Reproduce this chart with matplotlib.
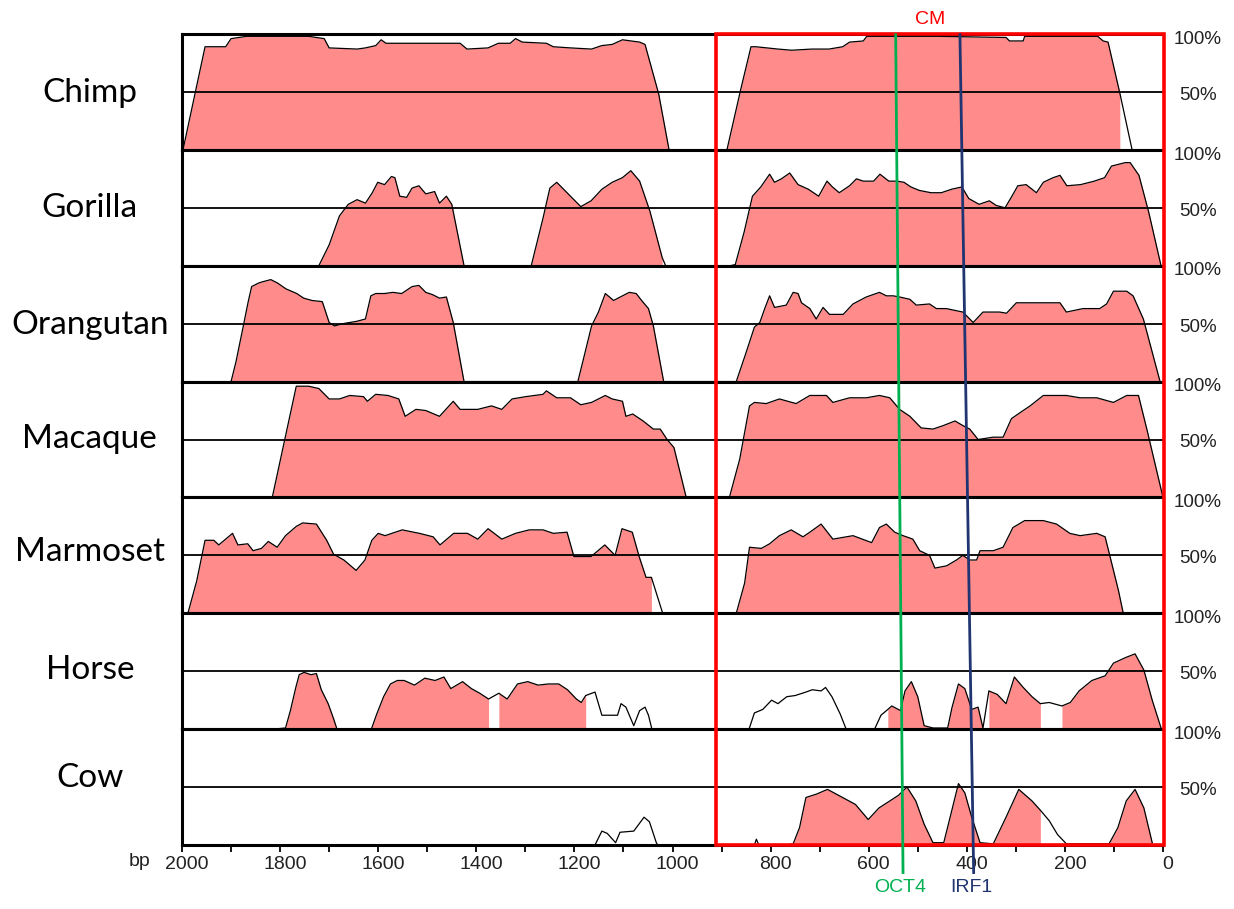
import matplotlib.pyplot as plt
import matplotlib.transforms as mtransforms
import numpy as np
from matplotlib.patches import Rectangle

# species, top to bottom
species = ['Chimp', 'Gorilla', 'Orangutan', 'Macaque', 'Marmoset', 'Horse', 'Cow']

# conservation curves (position in bp, % identity)
chimp_bp = [1998, 1953, 1911, 1900, 1868, 1742, 1710, 1700, 1643, 1626, 1605, 1594, 1584, 1517, 1433, 1419,
            1376, 1355, 1331, 1320, 1306, 1257, 1243, 1208, 1165, 1144, 1123, 1102, 1067, 1056, 1028, 1007,
            889, 861, 840, 830, 785, 757, 716, 681, 653, 639, 611, 604, 459, 320, 313, 285, 282, 133, 122,
            112, 88, 63]
chimp_pct = [0, 89, 89, 96, 98, 98, 96, 88, 87, 88, 90, 95, 92, 92, 92, 87, 88, 92, 92, 96, 93, 92, 89, 88,
             87, 90, 91, 95, 93, 91, 48, 0,
             0, 52, 89, 89, 87, 86, 87, 87, 89, 93, 94, 98, 98, 97, 94, 94, 98, 98, 94, 93, 49, 0]

gorilla_bp = [1721, 1700, 1679, 1661, 1643, 1626, 1612, 1601, 1587, 1573, 1566, 1556, 1542, 1531, 1517, 1503,
              1485, 1475, 1461, 1450, 1425,
              1288, 1264, 1250, 1236, 1222, 1201, 1187, 1166, 1144, 1123, 1102, 1085, 1067, 1046, 1021, 1014,
              882, 872, 854, 837, 820, 802, 792, 778, 761, 744, 723, 702, 685, 674, 660, 639, 625, 611, 590,
              577, 559, 542, 528, 514, 497, 473, 452, 431, 410, 396, 375, 354, 340, 322, 308, 296, 279, 258,
              244, 224, 210, 196, 168, 140, 119, 105, 77, 67, 49, 29, 4]
gorilla_pct = [0, 18, 43, 53, 57, 54, 63, 72, 70, 77, 76, 60, 59, 67, 69, 62, 64, 54, 60, 53, 0,
               0, 41, 67, 72, 66, 57, 51, 56, 66, 72, 76, 82, 73, 47, 7, 0,
               0, 1, 29, 60, 68, 79, 72, 75, 80, 70, 66, 60, 73, 68, 63, 69, 75, 73, 73, 79, 73, 73, 72, 68,
               65, 63, 63, 66, 68, 58, 53, 56, 52, 50, 60, 69, 70, 63, 72, 76, 78, 69, 70, 73, 76, 86, 89,
               89, 78, 46, 0]

orangutan_bp = [1900, 1890, 1875, 1865, 1858, 1844, 1837, 1819, 1805, 1788, 1766, 1752, 1735, 1714, 1700,
                1689, 1672, 1658, 1644, 1626, 1615, 1605, 1587, 1570, 1552, 1531, 1517, 1503, 1489, 1475,
                1461, 1447, 1425,
                1193, 1183, 1165, 1151, 1137, 1120, 1102, 1088, 1074, 1063, 1049, 1039, 1018,
                884, 870, 850, 833, 822, 812, 802, 792, 768, 754, 744, 737, 720, 707, 693, 680, 652, 632,
                605, 578, 564, 550, 537, 516, 503, 476, 462, 442, 408, 387, 367, 333, 319, 299, 279, 251,
                210, 197, 163, 129, 115, 101, 74, 61, 40, 6]
orangutan_pct = [0, 17, 48, 69, 82, 85, 86, 88, 85, 80, 76, 72, 70, 69, 51, 48, 50, 51, 52, 54, 74, 76, 76,
                 77, 76, 82, 83, 77, 75, 72, 73, 51, 0,
                 0, 17, 48, 60, 76, 70, 74, 77, 76, 70, 63, 48, 0,
                 0, 0, 25, 47, 51, 63, 74, 64, 66, 77, 76, 68, 63, 54, 64, 58, 58, 67, 73, 77, 74, 74, 73,
                 71, 66, 67, 63, 63, 60, 51, 60, 60, 59, 68, 68, 68, 68, 60, 63, 63, 67, 78, 78, 74, 54, 0]

macaque_bp = [1816, 1791, 1767, 1742, 1721, 1700, 1679, 1658, 1630, 1622, 1605, 1580, 1558, 1545, 1523,
              1503, 1475, 1447, 1433, 1397, 1369, 1348, 1327, 1299, 1264, 1257, 1236, 1208, 1187, 1165,
              1137, 1123, 1102, 1095, 1081, 1060, 1039, 1025, 1011, 997, 972,
              884, 863, 843, 833, 809, 782, 748, 720, 686, 673, 639, 605, 578, 557, 537, 516, 493, 469,
              448, 424, 408, 394, 377, 346, 326, 309, 292, 271, 244, 197, 169, 135, 101, 74, 50, 33, 0]
macaque_pct = [0, 49, 96, 96, 94, 85, 85, 88, 87, 83, 89, 88, 85, 70, 76, 75, 70, 83, 76, 76, 79, 76, 85,
               87, 89, 92, 86, 86, 80, 82, 88, 85, 83, 70, 72, 66, 59, 59, 50, 43, 0,
               0, 33, 79, 82, 81, 85, 81, 88, 88, 82, 86, 86, 88, 86, 76, 70, 60, 59, 62, 66, 62, 59, 50,
               52, 52, 68, 73, 79, 88, 88, 86, 86, 82, 88, 88, 59, 0]

marmoset_bp = [1988, 1970, 1953, 1935, 1925, 1911, 1897, 1886, 1866, 1855, 1838, 1824, 1806, 1789, 1767,
               1754, 1726, 1705, 1691, 1670, 1645, 1627, 1613, 1600, 1586, 1551, 1516, 1488, 1474, 1446,
               1418, 1397, 1376, 1348, 1320, 1292, 1264, 1243, 1215, 1201, 1187, 1166, 1138, 1117, 1103,
               1082, 1068, 1054, 1043, 1020,
               884, 870, 853, 843, 819, 802, 782, 758, 734, 720, 697, 673, 632, 594, 578, 564, 547, 530,
               510, 496, 476, 465, 441, 421, 408, 394, 380, 373, 346, 326, 306, 282, 244, 217, 190, 169,
               135, 118, 108, 91, 81]
marmoset_pct = [0, 28, 63, 63, 59, 64, 69, 59, 60, 54, 56, 62, 57, 67, 75, 78, 77, 63, 51, 46, 37, 46, 63,
                69, 67, 72, 69, 66, 59, 69, 69, 64, 73, 64, 69, 72, 72, 69, 70, 49, 49, 49, 59, 50, 73, 70,
                49, 31, 31, 0,
                0, 0, 26, 57, 56, 60, 67, 72, 66, 70, 77, 64, 67, 61, 74, 77, 70, 67, 64, 54, 50, 39, 41,
                46, 50, 46, 46, 54, 54, 57, 74, 80, 80, 77, 69, 67, 69, 66, 49, 20, 0]

horse_bp = [1814, 1789, 1779, 1768, 1761, 1751, 1737, 1726, 1716, 1702, 1691, 1684,
            1614, 1603, 1589, 1575, 1561, 1547, 1526, 1505, 1484, 1466, 1452, 1428, 1410, 1393, 1375, 1354,
            1337, 1316, 1295, 1274, 1253, 1232, 1214, 1196, 1186, 1177, 1158, 1144, 1133, 1112, 1105, 1095,
            1079, 1067, 1056, 1049, 1042,
            844, 833, 816, 798, 785, 767, 750, 728, 715, 697, 688, 675, 658, 646,
            588, 575, 561, 553, 535, 526, 513, 500, 487, 469, 439, 430, 417, 404, 390, 377, 367, 355, 338,
            320, 303, 285, 267, 250, 232, 206, 189, 171, 145, 118, 101, 75, 57, 39, 22, 4]
horse_pct = [0, 1, 16, 36, 47, 49, 47, 48, 34, 22, 9, 0,
             0, 13, 28, 39, 42, 42, 38, 44, 42, 45, 35, 41, 35, 31, 26, 31, 26, 39, 41, 38, 39, 39, 34, 26,
             23, 29, 32, 12, 12, 12, 22, 19, 3, 16, 19, 12, 0,
             0, 14, 17, 25, 22, 28, 29, 32, 34, 33, 36, 28, 13, 0,
             0, 12, 17, 20, 16, 33, 41, 28, 3, 1, 1, 19, 39, 35, 17, 19, 1, 33, 30, 22, 45, 36, 28, 22, 23,
             20, 23, 33, 42, 46, 57, 62, 65, 51, 25, 1]

cow_bp = [1158, 1144, 1133, 1116, 1107, 1079, 1065, 1058, 1047, 1033, 1030,
          833, 829, 824,
          767, 754, 741, 728, 706, 684, 662, 627, 601, 579, 557, 539, 522, 504, 487, 469, 447, 434, 417,
          404, 390, 373, 346, 320, 294, 267, 250, 232, 215, 197, 110, 92, 75, 57, 39, 22]
cow_pct = [0, 12, 10, 2, 11, 12, 20, 24, 20, 2, 0,
           0, 5, 0,
           0, 1, 15, 41, 44, 48, 43, 35, 22, 32, 38, 43, 50, 38, 18, 2, 2, 24, 53, 45, 24, 2, 1, 24, 48,
           38, 30, 21, 9, 1, 1, 15, 38, 48, 32, 2]

# shaded (conserved) stretches, (from bp, to bp)
chimp_fill = [(1998, 1007), (889, 88)]
gorilla_fill = [(1721, 1425), (1288, 1021), (882, 4)]
orangutan_fill = [(1900, 1425), (1193, 1018), (884, 6)]
macaque_fill = [(1816, 972), (884, 0)]
marmoset_fill = [(1988, 1043), (884, 81)]
horse_fill = [(1814, 1684), (1614, 1375), (1354, 1177), (561, 367), (355, 250), (206, 4)]
cow_fill = [(767, 250), (110, 22)]

all_bp = [chimp_bp, gorilla_bp, orangutan_bp, macaque_bp, marmoset_bp, horse_bp, cow_bp]
all_pct = [chimp_pct, gorilla_pct, orangutan_pct, macaque_pct, marmoset_pct, horse_pct, cow_pct]
all_fill = [chimp_fill, gorilla_fill, orangutan_fill, macaque_fill, marmoset_fill, horse_fill, cow_fill]
label_pos = [0.49, 0.5, 0.49, 0.5, 0.53, 0.51, 0.58]

# CM region and the two sites (bp at top, bp at bottom)
cm_region = (912, -3)
sites = ['OCT4', 'IRF1']
site_top = [545, 414]
site_bottom = [530, 386]
site_colors = ['#00b050', '#1f3470']

pink = '#ff8b8b'
sans = ['Liberation Sans', 'DejaVu Sans']

W, H = 1234, 909
fig = plt.figure(figsize=(W / 100, H / 100), dpi=100)

x0, x1 = 182, 1163
y0, y1 = 34, 845
ph = (y1 - y0) / 7.0

for i in range(7):
    top = y0 + i * ph
    ax = fig.add_axes([x0 / W, 1 - (top + ph) / H, (x1 - x0) / W, ph / H])
    ax.set_xlim(2000, 0)
    ax.set_ylim(0, 100)
    bp = np.array(all_bp[i])
    pct = np.array(all_pct[i])
    for hi, lo in all_fill[i]:
        m = (bp <= hi) & (bp >= lo)
        ax.fill_between(bp[m], pct[m], 0, color=pink, lw=0)
    ax.plot(bp, pct, color='black', lw=0.9)
    ax.axhline(50, color='black', lw=1.3)
    for s in ['top', 'bottom', 'left']:
        ax.spines[s].set_linewidth(2.2)
    ax.spines['right'].set_visible(False)
    ax.set_yticks([])
    ax.text(-0.094, label_pos[i], species[i], transform=ax.transAxes, ha='center', va='center',
            fontsize=24, family=['Lato', 'DejaVu Sans'])
    ax.text(1.0357, 0.955, '100%', transform=ax.transAxes, ha='center', va='center',
            fontsize=13.5, family=sans, color='#222222')
    ax.text(1.0357, 0.47, '50%', transform=ax.transAxes, ha='center', va='center',
            fontsize=13.5, family=sans, color='#222222')
    if i < 6:
        ax.set_xticks([])
    else:
        ticks = list(range(2000, -1, -100))
        ax.set_xticks(ticks)
        ax.set_xticklabels([str(t) if t % 200 == 0 else '' for t in ticks], family=sans)
        ax.tick_params(axis='x', direction='out', length=5, width=1.3, pad=3, labelsize=14,
                       labelcolor='#222222')
        shift = mtransforms.ScaledTranslation(5 / 100, 0, fig.dpi_scale_trans)
        for lab in ax.get_xticklabels():
            lab.set_transform(lab.get_transform() + shift)

fig.text(140 / W, 1 - 861 / H, 'bp', ha='center', va='center', fontsize=14, family=sans, color='#222222')

# overlay for CM box and site lines
ov = fig.add_axes([x0 / W, 1 - y1 / H, (x1 - x0) / W, (y1 - y0) / H])
ov.set_xlim(2000, 0)
ov.set_ylim(0, 1)
ov.axis('off')
ov.patch.set_alpha(0)
ov.add_patch(Rectangle((cm_region[1], 0), cm_region[0] - cm_region[1], 1.0, fill=False,
                       edgecolor='#ff0000', lw=2.6, clip_on=False))
ov.text(475, 1.018, 'CM', color='#ff0000', ha='center', va='center', fontsize=14, family=sans)
for name, t, b, c in zip(sites, site_top, site_bottom, site_colors):
    ov.plot([t, b], [0.999, -0.034], color=c, lw=2, clip_on=False)
    ov.text(b + 5, -0.053, name, color=c, ha='center', va='center', fontsize=14, family=sans)

fig.savefig('out.png', dpi=100)
